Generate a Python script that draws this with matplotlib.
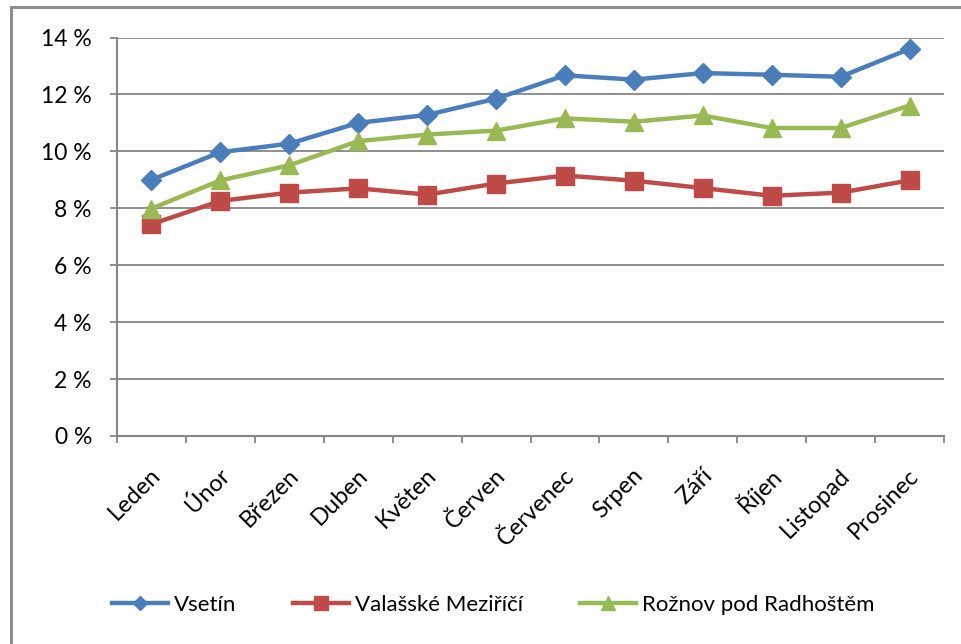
import matplotlib
matplotlib.use("Agg")
import matplotlib.pyplot as plt
from matplotlib.lines import Line2D
from matplotlib.transforms import ScaledTranslation
from matplotlib.ticker import FixedLocator

months = ["Leden", "Únor", "Březen", "Duben", "Květen", "Červen",
          "Červenec", "Srpen", "Září", "Říjen", "Listopad", "Prosinec"]
vsetin = [9.0, 9.97, 10.27, 11.0, 11.28, 11.85, 12.67, 12.52, 12.75, 12.69, 12.62, 13.6]
valmez = [7.44, 8.26, 8.55, 8.70, 8.48, 8.87, 9.15, 8.97, 8.71, 8.44, 8.55, 8.98]
roznov = [7.99, 8.98, 9.51, 10.36, 10.59, 10.73, 11.16, 11.04, 11.26, 10.82, 10.82, 11.61]
series_names = ["Vsetín", "Valašské Meziříčí", "Rožnov pod Radhoštěm"]
y_ticks = [0, 2, 4, 6, 8, 10, 12, 14]

plt.rcParams['font.family'] = ['Lato', 'DejaVu Sans']

W, H = 961, 644
fig = plt.figure(figsize=(W / 100, H / 100), dpi=100)
ax = fig.add_axes([117 / W, 1 - 436 / H, (944 - 117) / W, (436 - 37.5) / H])

x = list(range(len(months)))
ax.plot(x, vsetin, color="#4A7EBB", lw=3.2, marker="D", ms=10, mec="#4A7EBB", label=series_names[0])
ax.plot(x, valmez, color="#BE4B48", lw=3.2, marker="s", ms=12.5, mec="#BE4B48", label=series_names[1])
ax.plot(x, roznov, color="#98B954", lw=3.2, marker="^", ms=12.5, mec="#98B954", label=series_names[2])

grid_c = "#868686"
ax.set_xlim(-0.5, len(months) - 0.5)
ax.set_ylim(0, 14)
ax.set_yticks(y_ticks)
ax.set_yticklabels([f"{v} %" for v in y_ticks])
ax.yaxis.grid(True, color=grid_c, lw=1.3)
ax.set_axisbelow(True)
for s in ["top", "right"]:
    ax.spines[s].set_visible(False)
for s in ["left", "bottom"]:
    ax.spines[s].set_color(grid_c)
    ax.spines[s].set_linewidth(1.5)

ax.tick_params(axis="y", length=5, width=1.3, color=grid_c, pad=13, labelsize=16.5, labelcolor="#000000")
ax.set_xticks(x)
ax.set_xticklabels(months, rotation=45, ha="right", va="center", rotation_mode="anchor", fontsize=17)
ax.tick_params(axis="x", which="major", length=0, pad=0)
ax.xaxis.set_minor_locator(FixedLocator([i - 0.5 for i in range(len(months) + 1)]))
ax.tick_params(axis="x", which="minor", length=5, width=1.3, color=grid_c)
off = ScaledTranslation(6 / 100, -36 / 100, fig.dpi_scale_trans)
for lab in ax.get_xticklabels():
    lab.set_transform(lab.get_transform() + off)

fig.legend(loc="center", bbox_to_anchor=(0.5135, 1 - 605 / H), ncol=3, frameon=False,
           fontsize=16, handlelength=2.5, columnspacing=2.55, handletextpad=0.3, markerscale=0.75)

# outer chart frame
fig.add_artist(Line2D([11 / W, 1], [1 - 7 / H, 1 - 7 / H], transform=fig.transFigure, color="#8C8C8C", lw=2.2))
fig.add_artist(Line2D([11 / W, 11 / W], [0, 1 - 7 / H], transform=fig.transFigure, color="#8C8C8C", lw=2.2))

fig.savefig("out.png", dpi=100)
